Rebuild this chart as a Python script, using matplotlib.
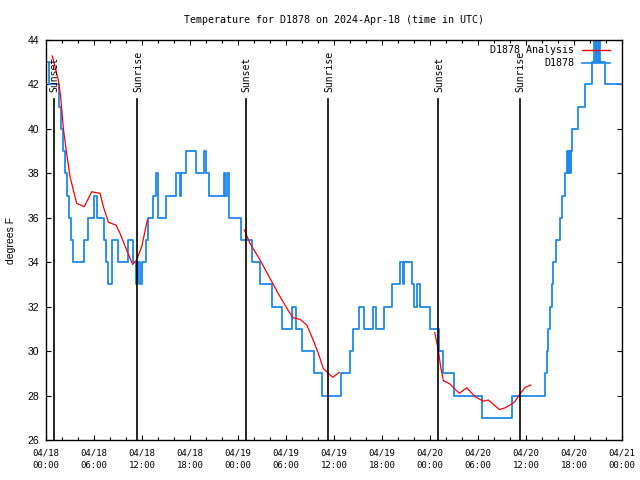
import numpy as np
import matplotlib
matplotlib.use("Agg")
import matplotlib.pyplot as plt
from matplotlib.ticker import MultipleLocator

# ---- data (hours since 2024-04-18 00:00 UTC) ----
obs_hours = [0.25, 0.4, 1.6, 1.85, 2.1, 2.35, 2.6, 2.85, 3.1, 3.4,
             4.75, 5.25, 6.05, 6.4, 7.25, 7.5, 7.8, 8.2, 8.3, 9.05,
             10.3, 10.9, 11.3, 11.55, 11.7, 12.0, 12.5, 12.8, 13.4, 13.7,
             14.05, 15.0, 16.25, 16.75, 16.9, 17.5, 18.75, 19.75, 20.0, 20.4,
             22.2, 22.35, 22.6, 22.9, 24.35, 25.7, 26.8, 28.25, 29.45, 30.7,
             31.2, 32.0, 33.45, 34.55, 36.85, 37.95, 38.4, 39.1, 39.8, 40.85,
             41.3, 42.3, 43.2, 44.2, 44.6, 44.8, 45.8, 46.05, 46.35, 46.8,
             47.95, 49.15, 49.6, 50.95, 54.55, 58.3, 62.4, 62.6, 62.8, 63.0,
             63.2, 63.4, 63.8, 64.25, 64.5, 64.9, 65.1, 65.25, 65.4, 65.55,
             65.65, 65.8, 66.45, 67.35, 68.3, 68.5, 68.7, 68.8, 69.0, 69.1,
             69.3, 69.9, 72.0]
obs_temps = [43, 42, 41, 40, 39, 38, 37, 36, 35, 34,
             35, 36, 37, 36, 35, 34, 33, 34, 35, 34,
             35, 34, 33, 34, 33, 34, 35, 36, 37, 38,
             36, 37, 38, 37, 38, 39, 38, 39, 38, 37,
             38, 37, 38, 36, 35, 34, 33, 32, 31, 32,
             31, 30, 29, 28, 29, 30, 31, 32, 31, 32,
             31, 32, 33, 34, 33, 34, 33, 32, 33, 32,
             31, 30, 29, 28, 27, 28, 29, 30, 31, 32,
             33, 34, 35, 36, 37, 38, 39, 38, 39, 38,
             39, 40, 41, 42, 43, 44, 43, 44, 43, 44,
             43, 42, 42]

ana_hours = [0.79, 1.54, 1.83, 2.17, 2.58, 3.0, 3.42, 3.83, 4.79, 5.71,
             6.75, 7.17, 7.8, 8.75, 9.25, 10.08, 10.83, 11.33, 11.96, 12.67, np.nan,
             24.8, 25.5, 26.75, 28.0, 29.25, 30.5, 30.9, 31.75, 32.6, 33.4,
             34.04, 34.66, 35.3, 35.83, 36.66, np.nan,
             48.6, 49.04, 49.33, 49.67, 50.5, 51.04, 51.67, 52.58, 53.63, 54.67,
             55.3, 56.67, 57.4, 58.0, 58.6, 59.25, 59.9, 60.6]
ana_temps = [43.28, 42.2, 41.45, 40.03, 38.9, 37.85, 37.25, 36.65, 36.5, 37.17,
             37.1, 36.5, 35.8, 35.67, 35.3, 34.55, 33.9, 34.1, 34.7, 35.9, np.nan,
             35.45, 34.85, 34.1, 33.27, 32.45, 31.7, 31.5, 31.43, 31.17, 30.5,
             29.9, 29.22, 29.0, 28.82, 29.04, np.nan,
             30.83, 30.05, 29.3, 28.67, 28.52, 28.32, 28.1, 28.35, 27.95, 27.75,
             27.8, 27.37, 27.45, 27.57, 27.72, 28.07, 28.37, 28.47]

sun_hours = [1.0, 11.4, 25.0, 35.3, 49.05, 59.25]
sun_labels = ["Sunset", "Sunrise", "Sunset", "Sunrise", "Sunset", "Sunrise"]

xtick_labels = ["04/18\n00:00", "04/18\n06:00", "04/18\n12:00", "04/18\n18:00",
                "04/19\n00:00", "04/19\n06:00", "04/19\n12:00", "04/19\n18:00",
                "04/20\n00:00", "04/20\n06:00", "04/20\n12:00", "04/20\n18:00",
                "04/21\n00:00"]
ytick_values = [26, 28, 30, 32, 34, 36, 38, 40, 42, 44]

title = "Temperature for D1878 on 2024-Apr-18 (time in UTC)"
series_names = ["D1878 Analysis", "D1878"]

BLUE = "#1e88f0"
RED = "#ff0000"
MONO = "DejaVu Sans Mono"
SANS = "Liberation Sans"

fig = plt.figure(figsize=(6.4, 4.8), dpi=100)
ax = fig.add_axes([46 / 640, 1 - 440 / 480, (622 - 46) / 640, 400 / 480])

ax.plot(obs_hours, obs_temps, drawstyle="steps-post", color=BLUE, lw=1.3)
ax.plot(ana_hours, ana_temps, color=RED, lw=0.9)

for h, lab in zip(sun_hours, sun_labels):
    ax.plot([h, h], [26, 41.35], color="black", lw=1.2)
    ax.text(h + 0.1, 41.65, lab, rotation=90, ha="center", va="bottom",
            fontsize=7, family=MONO)

ax.set_xlim(0, 72)
ax.set_ylim(26, 44)
ax.set_xticks(np.arange(len(xtick_labels)) * 6)
ax.set_xticklabels(xtick_labels, family=MONO, fontsize=6.5, linespacing=1.55)
ax.xaxis.set_minor_locator(MultipleLocator(2))
ax.set_yticks(ytick_values)
ax.set_yticklabels([str(v) for v in ytick_values], family=SANS, fontsize=7.5)
ax.tick_params(which="both", direction="in", top=True, right=True, width=0.8)
ax.tick_params(which="major", length=3.3)
ax.tick_params(which="minor", length=2.0)
ax.tick_params(axis="x", pad=6)
ax.tick_params(axis="y", pad=5)
for s in ax.spines.values():
    s.set_linewidth(1.0)

ax.set_ylabel("degrees F", family=SANS, fontsize=7.5, labelpad=8)
fig.text(334 / 640, 1 - 20 / 480, title, ha="center", va="center", family=MONO, fontsize=7.2)

# legend (gnuplot style: right-aligned text, sample line on the right)
for i, (name, col) in enumerate(zip(series_names, [RED, BLUE])):
    yy = 1 - (10 + 13.3 * i) / 400
    ax.text((574 - 46) / 576, yy, name, transform=ax.transAxes, ha="right", va="center",
            family=MONO, fontsize=7.2)
    ax.plot([(582 - 46) / 576, (610 - 46) / 576], [yy, yy], transform=ax.transAxes,
            color=col, lw=1.2 if col == BLUE else 1.0)

fig.savefig("out.png", dpi=100)
